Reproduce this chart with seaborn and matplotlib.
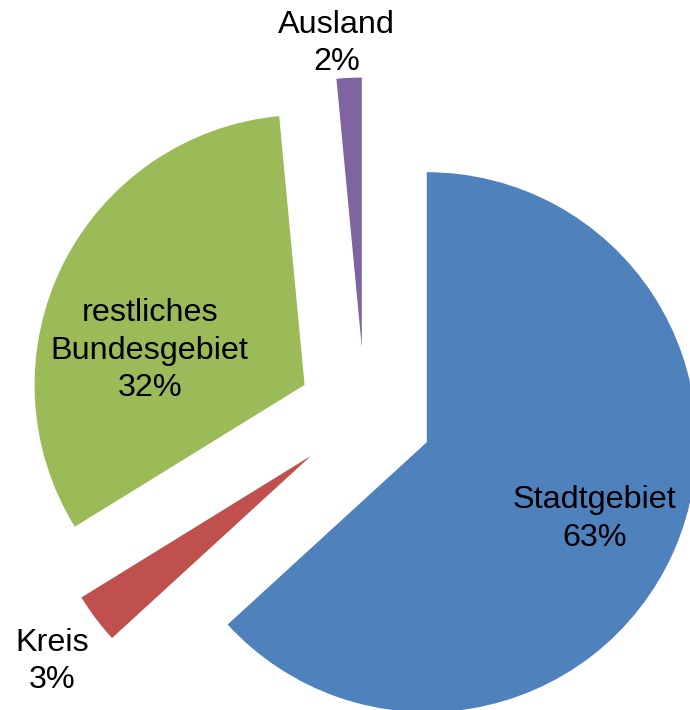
import matplotlib
matplotlib.use("Agg")
import matplotlib.pyplot as plt
import seaborn as sns
import numpy as np

categories = ["Stadtgebiet", "Kreis", "restliches\nBundesgebiet", "Ausland"]
values = [63.2, 3.0, 32.3, 1.5]
colors = ["#4F81BD", "#C0504D", "#9BBB59", "#8064A2"]
explode = [0.25, 0.25, 0.25, 0.25]
label_dist = [0.68, 1.22, 0.59, 1.14]
label_angle_shift = [0.0, 1.0, 13.0, 2.0]

sns.set_theme(style="white")
plt.rcParams['font.family'] = ['Liberation Sans', 'DejaVu Sans']

fig = plt.figure(figsize=(6.9, 7.1), dpi=100)
ax = fig.add_axes([0, 0, 1, 1])
wedges, _ = ax.pie(values, colors=sns.color_palette(colors), explode=explode,
                   startangle=90, counterclock=False, radius=1,
                   wedgeprops=dict(linewidth=0))
ax.set_aspect('auto')
ax.set_xlim(-365 / 270, (690 - 365) / 270)
ax.set_ylim(-(710 - 415) / 270, 415 / 270)
ax.axis('off')

total = sum(values)
for w, cat, v, d, s in zip(wedges, categories, values, label_dist, label_angle_shift):
    mid = np.deg2rad((w.theta1 + w.theta2) / 2 + s)
    cx, cy = w.center
    x = cx + d * w.r * np.cos(mid)
    y = cy + d * w.r * np.sin(mid) - 0.01
    pct = round(v / total * 100)
    ax.text(x, y, f"{cat}\n{pct:.0f}%", ha='center', va='center',
            fontsize=23.3, color='black', linespacing=1.32)

fig.savefig("out.png", dpi=100)
